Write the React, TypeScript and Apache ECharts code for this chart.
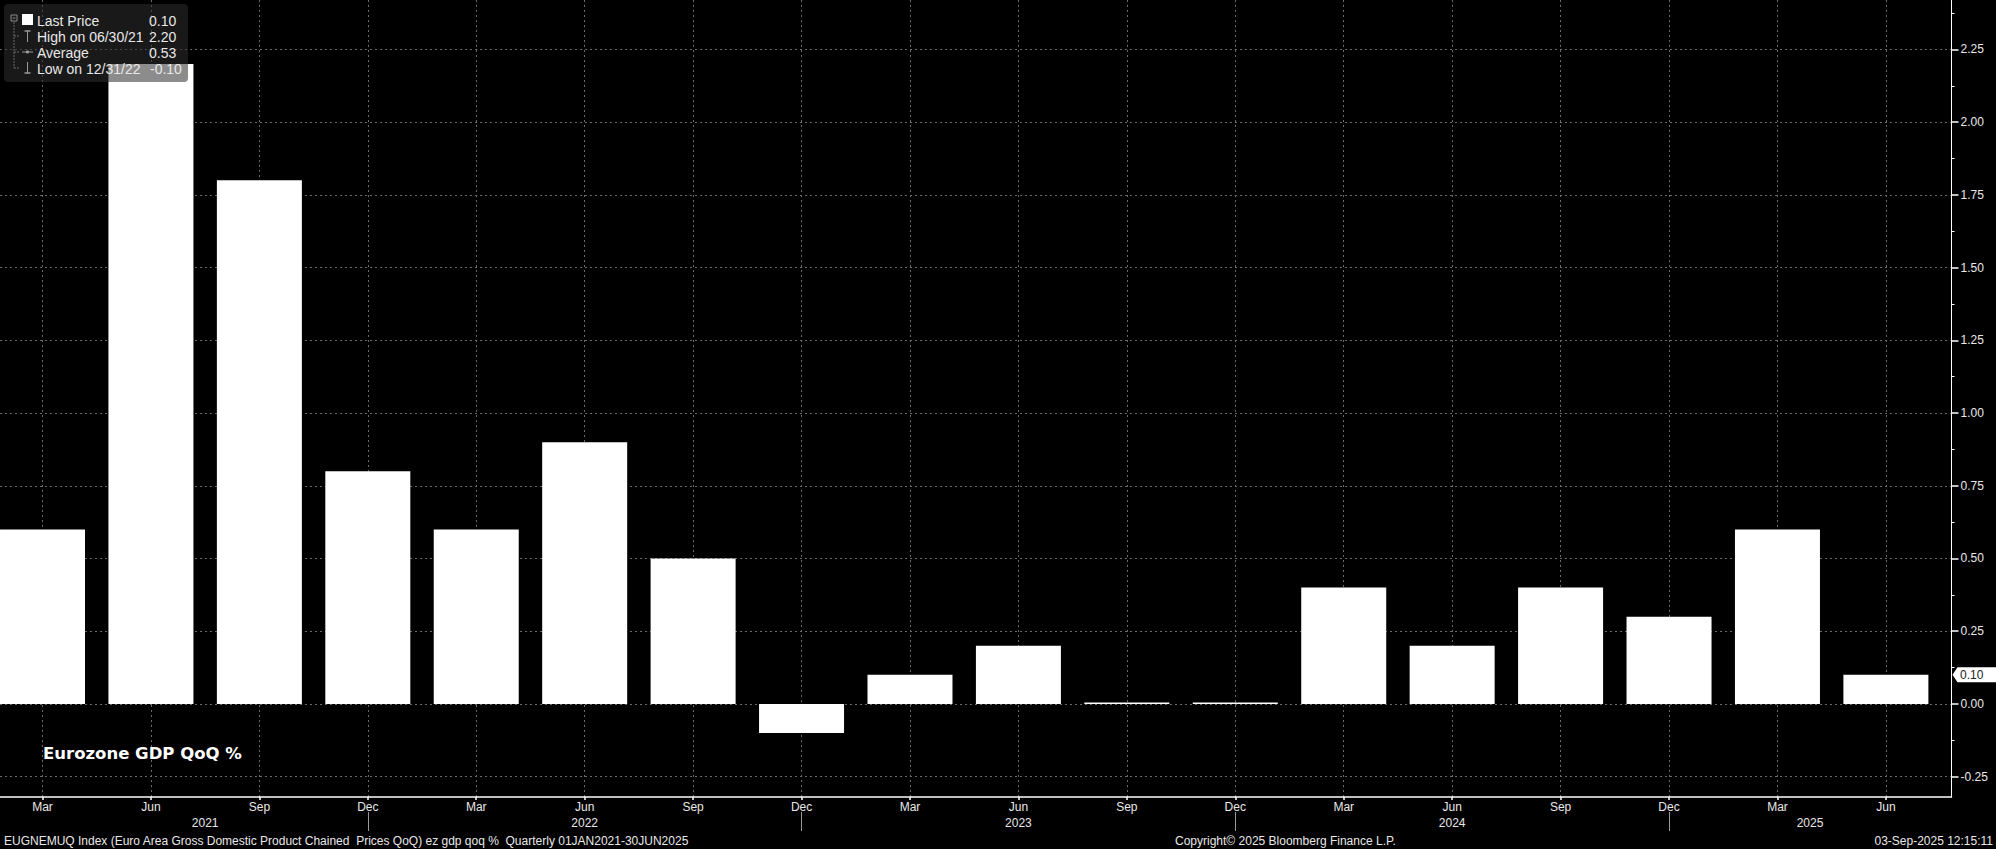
import React, { useEffect, useRef } from "react";
import * as echarts from "echarts";

// ---- data ----
const quarterMonths = ["Mar", "Jun", "Sep", "Dec", "Mar", "Jun", "Sep", "Dec", "Mar", "Jun", "Sep", "Dec", "Mar", "Jun", "Sep", "Dec", "Mar", "Jun"];
const quarterDates = ["03/31/21", "06/30/21", "09/30/21", "12/31/21", "03/31/22", "06/30/22", "09/30/22", "12/31/22", "03/31/23", "06/30/23", "09/30/23", "12/31/23", "03/31/24", "06/30/24", "09/30/24", "12/31/24", "03/31/25", "06/30/25"];
const gdpQoQ = [0.6, 2.2, 1.8, 0.8, 0.6, 0.9, 0.5, -0.1, 0.1, 0.2, 0.0, 0.0, 0.4, 0.2, 0.4, 0.3, 0.6, 0.1];
const yearLabels = ["2021", "2022", "2023", "2024", "2025"];
const yearLabelAnchors = [1.5, 5, 9, 13, 16.3];
const yearBreakAnchors = [3, 7, 11, 15];
const yTickValues = [-0.25, 0, 0.25, 0.5, 0.75, 1.0, 1.25, 1.5, 1.75, 2.0, 2.25];
const yMinorTickValues = [-0.125, 0.125, 0.375, 0.625, 0.875, 1.125, 1.375, 1.625, 1.875, 2.125, 2.375];
const titleText = "Eurozone GDP QoQ %";
const footerLeft = "EUGNEMUQ Index (Euro Area Gross Domestic Product Chained  Prices QoQ) ez gdp qoq %  Quarterly 01JAN2021-30JUN2025";
const footerCenter = "Copyright\u00A9 2025 Bloomberg Finance L.P.";
const footerRight = "03-Sep-2025 12:15:11";

const FONT = "'Liberation Sans', Arial, sans-serif";
const W = 1996;
const H = 849;
const AXIS_X = 1951.5;

export default function App() {
  const ref = useRef<HTMLDivElement>(null);

  useEffect(() => {
    if (!ref.current) return;
    const chart = echarts.init(ref.current, undefined, { renderer: "svg", width: W, height: H });

    const n = gdpQoQ.length;
    const last = gdpQoQ[n - 1];
    let hi = 0, lo = 0;
    gdpQoQ.forEach((v, i) => {
      if (v > gdpQoQ[hi]) hi = i;
      if (v < gdpQoQ[lo]) lo = i;
    });
    const avg = gdpQoQ.reduce((a, b) => a + b, 0) / n;
    const legendRows = [
      { label: "Last Price", value: last.toFixed(2) },
      { label: "High on " + quarterDates[hi], value: gdpQoQ[hi].toFixed(2) },
      { label: "Average", value: avg.toFixed(2) },
      { label: "Low on " + quarterDates[lo], value: gdpQoQ[lo].toFixed(2) },
    ];

    const idx = gdpQoQ.map((_, i) => i);
    const splitStyle = { color: "#6a6a6a", type: [2, 3] as any, width: 1 };

    const Z = 100;
    const legendY = [20.5, 36.5, 52.5, 68.5];
    const iconStroke = "#9a9a9a";
    const treeStroke = "#6a6a6a";
    const legendChildren: any[] = [
      { type: "rect", z: Z, shape: { x: 4, y: 4, width: 184, height: 78, r: 4 }, style: { fill: "rgba(45,45,45,0.55)" } },
      { type: "rect", z: Z + 1, shape: { x: 11, y: 15, width: 6, height: 6 }, style: { fill: "none", stroke: "#8a8a8a", lineWidth: 1 } },
      { type: "line", z: Z + 1, shape: { x1: 12.5, y1: 18, x2: 15.5, y2: 18 }, style: { stroke: "#8a8a8a", lineWidth: 1 } },
      { type: "rect", z: Z + 1, shape: { x: 22, y: 14, width: 11, height: 11 }, style: { fill: "#ffffff" } },
      { type: "line", z: Z + 1, shape: { x1: 14, y1: 22, x2: 14, y2: 68 }, style: { stroke: treeStroke, lineWidth: 1, lineDash: [2, 1] } },
      { type: "line", z: Z + 1, shape: { x1: 14, y1: 36, x2: 20, y2: 36 }, style: { stroke: treeStroke, lineWidth: 1, lineDash: [2, 1] } },
      { type: "line", z: Z + 1, shape: { x1: 14, y1: 52, x2: 20, y2: 52 }, style: { stroke: treeStroke, lineWidth: 1, lineDash: [2, 1] } },
      { type: "line", z: Z + 1, shape: { x1: 14, y1: 68, x2: 20, y2: 68 }, style: { stroke: treeStroke, lineWidth: 1, lineDash: [2, 1] } },
      // High icon
      { type: "line", z: Z + 1, shape: { x1: 27.5, y1: 31, x2: 27.5, y2: 42 }, style: { stroke: iconStroke, lineWidth: 1 } },
      { type: "line", z: Z + 1, shape: { x1: 24.5, y1: 31, x2: 30.5, y2: 31 }, style: { stroke: iconStroke, lineWidth: 1.5 } },
      // Average icon
      { type: "line", z: Z + 1, shape: { x1: 22, y1: 52, x2: 33, y2: 52 }, style: { stroke: iconStroke, lineWidth: 1 } },
      { type: "circle", z: Z + 1, shape: { cx: 27.5, cy: 52, r: 1.6 }, style: { fill: iconStroke } },
      // Low icon
      { type: "line", z: Z + 1, shape: { x1: 27.5, y1: 62, x2: 27.5, y2: 73 }, style: { stroke: iconStroke, lineWidth: 1 } },
      { type: "line", z: Z + 1, shape: { x1: 24.5, y1: 73, x2: 30.5, y2: 73 }, style: { stroke: iconStroke, lineWidth: 1.5 } },
    ];
    legendRows.forEach((r, i) => {
      legendChildren.push({
        type: "text", z: Z + 2, x: 37, y: legendY[i],
        style: { text: r.label, fill: "#e8e8e8", font: `14px ${FONT}`, textVerticalAlign: "middle", textAlign: "left" },
      });
      legendChildren.push({
        type: "text", z: Z + 2, x: r.value.startsWith("-") ? 150 : 149, y: legendY[i],
        style: { text: r.value, fill: "#e8e8e8", font: `14px ${FONT}`, textVerticalAlign: "middle", textAlign: "left" },
      });
    });

    const baseGraphics: any[] = [
      ...legendChildren,
      {
        type: "text", z: Z, x: 43, y: 753,
        style: { text: titleText, fill: "#ffffff", font: `bold 16.5px 'DejaVu Sans', Verdana, sans-serif`, textVerticalAlign: "middle" },
      },
      { type: "text", z: Z, x: 4, y: 841, style: { text: footerLeft, fill: "#e8e8e8", font: `12px ${FONT}`, textVerticalAlign: "middle" } },
      { type: "text", z: Z, x: 1175, y: 841, style: { text: footerCenter, fill: "#e8e8e8", font: `12px ${FONT}`, textVerticalAlign: "middle" } },
      { type: "text", z: Z, x: 1993, y: 841, style: { text: footerRight, fill: "#e8e8e8", font: `12px ${FONT}`, textVerticalAlign: "middle", textAlign: "right" } },
    ];

    const option: any = {
      animation: false,
      backgroundColor: "#000000",
      grid: { left: 0, right: W - AXIS_X, top: 0, bottom: H - 797, containLabel: false },
      xAxis: [
        {
          type: "value",
          position: "bottom",
          min: -0.392,
          max: 17.605,
          axisLine: { show: true, onZero: false, lineStyle: { color: "#ffffff", width: 1.5 } },
          axisTick: { show: true, customValues: idx, length: 3, lineStyle: { color: "#ffffff", width: 1.5 } },
          axisLabel: {
            show: true, customValues: idx, margin: 4,
            color: "#e8e8e8", fontFamily: FONT, fontSize: 12,
            formatter: (v: number) => quarterMonths[Math.round(v)] ?? "",
          },
          splitLine: { show: true, lineStyle: splitStyle },
        },
        {
          type: "value",
          position: "top",
          offset: -812,
          min: -0.392,
          max: 17.605,
          axisLine: { show: false, onZero: false },
          axisTick: { show: true, inside: true, customValues: yearBreakAnchors, length: 19, lineStyle: { color: "#9a9a9a", width: 1 } },
          axisLabel: {
            show: true, inside: true, customValues: yearLabelAnchors, margin: 5,
            color: "#e8e8e8", fontFamily: FONT, fontSize: 12,
            formatter: (v: number) => {
              const k = yearLabelAnchors.findIndex((a) => Math.abs(a - v) < 1e-6);
              return k >= 0 ? yearLabels[k] : "";
            },
          },
          splitLine: { show: false },
        },
      ],
      yAxis: [
        {
          type: "value",
          position: "right",
          min: -0.32,
          max: 2.42,
          axisLine: { show: true, onZero: false, lineStyle: { color: "#ffffff", width: 1 } },
          axisTick: { show: true, customValues: yTickValues, length: 7, lineStyle: { color: "#ffffff", width: 1.5 } },
          axisLabel: {
            show: true, customValues: yTickValues, margin: 9,
            color: "#e8e8e8", fontFamily: FONT, fontSize: 12,
            formatter: (v: number) => v.toFixed(2),
          },
          splitLine: { show: true, lineStyle: splitStyle },
        },
        {
          type: "value",
          position: "left",
          offset: -AXIS_X,
          min: -0.32,
          max: 2.42,
          axisLine: { show: false, onZero: false },
          axisTick: { show: true, inside: true, customValues: yMinorTickValues, length: 3, lineStyle: { color: "#ffffff", width: 1 } },
          axisLabel: { show: false },
          splitLine: { show: false },
        },
      ],
      series: [
        {
          type: "bar",
          xAxisIndex: 0,
          yAxisIndex: 0,
          data: gdpQoQ.map((v, i) => [i, v]),
          barWidth: 85,
          barMinHeight: 1.5,
          itemStyle: { color: "#ffffff" },
          z: 2,
        },
      ],
      graphic: baseGraphics,
    };

    chart.setOption(option);

    const py = chart.convertToPixel({ yAxisIndex: 0 }, last) as number;
    const ax = AXIS_X + 1;
    const markerGraphics = [
      {
        type: "polygon", z: Z,
        shape: { points: [[ax, py], [ax + 5, py - 7.5], [W, py - 7.5], [W, py + 7.5], [ax + 5, py + 7.5]] },
        style: { fill: "#ffffff" },
      },
      {
        type: "text", z: Z + 1, x: ax + 7.5, y: py,
        style: { text: last.toFixed(2), fill: "#222222", font: `12px ${FONT}`, textVerticalAlign: "middle" },
      },
    ];
    chart.setOption({ graphic: [...baseGraphics, ...markerGraphics] }, { replaceMerge: ["graphic"] });

    return () => chart.dispose();
  }, []);

  return (
    <div
      ref={ref}
      style={{ position: "fixed", left: 0, top: 0, width: W, height: H, background: "#000" }}
    />
  );
}
